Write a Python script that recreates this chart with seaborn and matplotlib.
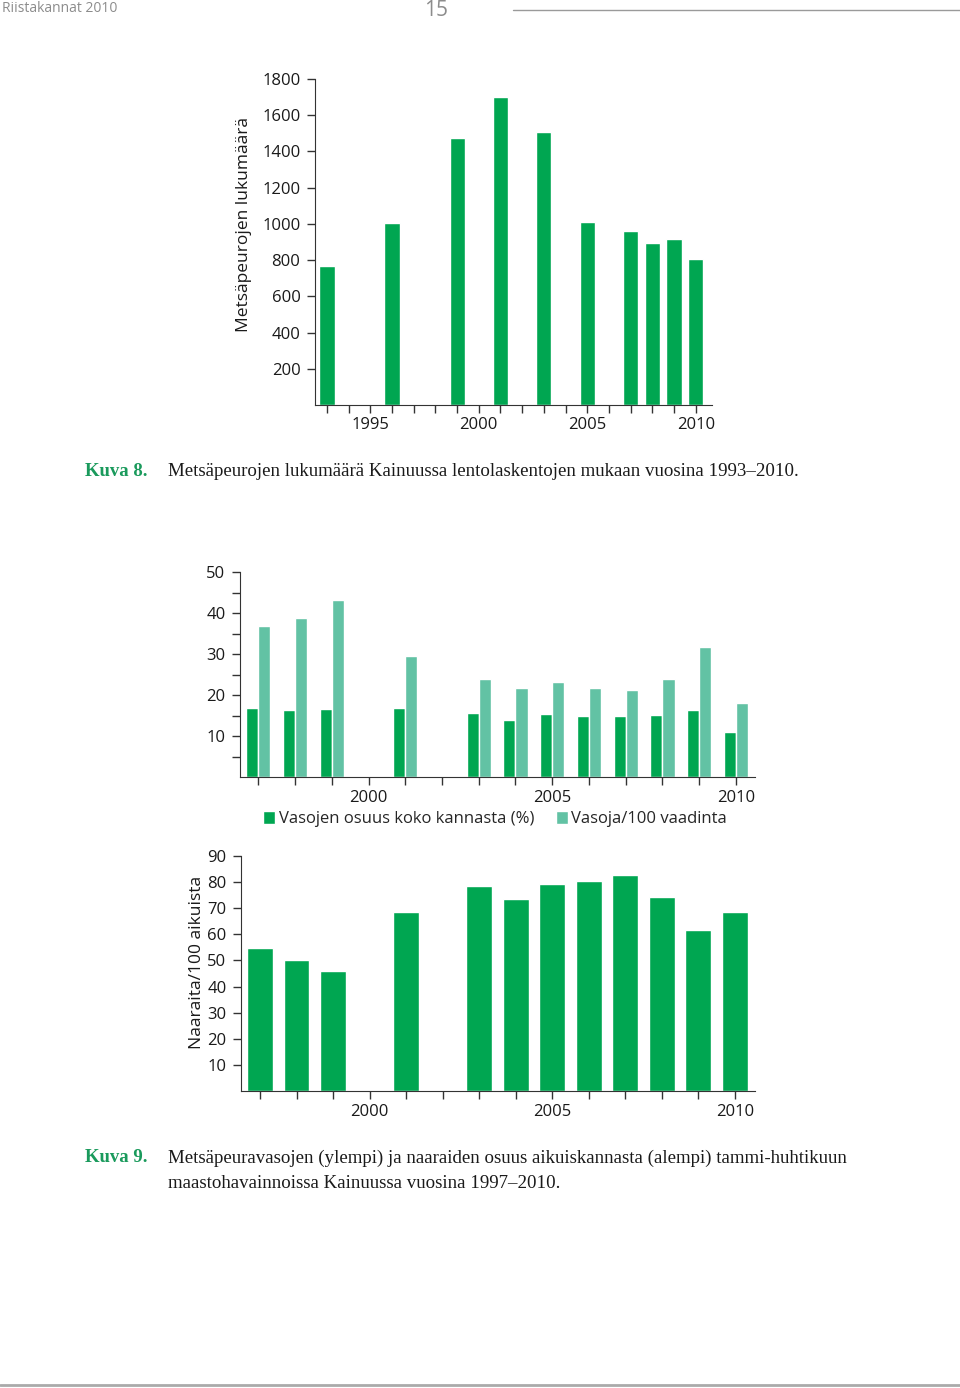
import pandas as pd
import numpy as np
import matplotlib.pyplot as plt
import seaborn as sns

# Kuva 8: metsäpeurojen lukumäärä lentolaskennoissa
count_years = [1993, 1996, 1999, 2001, 2003, 2005, 2007, 2008, 2009, 2010]
count_values = [767, 1004, 1475, 1701, 1508, 1010, 960, 894, 916, 807]

# Kuva 9 ylempi: vasat
calf_years = [1997, 1998, 1999, 2001, 2003, 2004, 2005, 2006, 2007, 2008, 2009, 2010]
calf_share = [16.9, 16.4, 16.7, 16.9, 15.7, 13.8, 15.3, 15.0, 14.9, 15.2, 16.4, 11.0]
calf_per_cow = [36.9, 38.8, 43.2, 29.5, 23.8, 21.8, 23.1, 21.8, 21.1, 24.0, 31.7, 18.1]
calf_series = ['Vasojen osuus koko kannasta (%)', 'Vasoja/100 vaadinta']

# Kuva 9 alempi: naaraat / 100 aikuista
female_per_adult = [54.9, 50.3, 45.8, 68.4, 78.5, 73.6, 79.1, 80.5, 82.9, 74.4, 61.5, 68.6]

dark = '#00a651'
light = '#62c2a4'
ink = '#1a1a1a'

sns.set_style('ticks')
plt.rcParams['font.family'] = ['Open Sans', 'DejaVu Sans']
plt.rcParams['axes.edgecolor'] = '#333333'
plt.rcParams['xtick.color'] = '#333333'
plt.rcParams['ytick.color'] = '#333333'
plt.rcParams['xtick.labelcolor'] = ink
plt.rcParams['ytick.labelcolor'] = ink

W, H = 960, 1388
fs = 12
fig = plt.figure(figsize=(W / 100, H / 100), dpi=100)


def box(left, right, top, bottom):
    return [left / W, 1 - bottom / H, (right - left) / W, (bottom - top) / H]


def style_axis(ax, years, xlim, ylim, yticks, ylabels):
    sns.despine(ax=ax)
    ax.set_xlim(*xlim)
    ax.set_ylim(*ylim)
    ax.set_xticks(years)
    ax.set_xticklabels([str(y) if y % 5 == 0 else '' for y in years])
    ax.set_yticks(yticks)
    ax.set_yticklabels(ylabels)
    ax.tick_params(axis='x', length=5.5, width=1, labelsize=fs, pad=3.5)
    ax.tick_params(axis='y', length=6, width=1, labelsize=fs, pad=4.5)
    ax.set_xlabel('')
    ax.set_ylabel('')


# --- Kuva 8 ---
ax1 = fig.add_axes(box(315, 712, 79, 405))
df1 = pd.DataFrame({'year': count_years, 'count': count_values})
sns.barplot(data=df1, x='year', y='count', native_scale=True, color=dark,
            width=0.7, saturation=1, ax=ax1)
style_axis(ax1, list(range(1993, 2011)), (1992.45, 2010.75), (0, 1800),
           list(range(200, 1801, 200)), [str(v) for v in range(200, 1801, 200)])
ax1.set_ylabel('Metsäpeurojen lukumäärä', fontsize=12.5, color=ink)
ax1.yaxis.set_label_coords(-0.159, 0.555)

# --- Kuva 9 ylempi ---
ax2 = fig.add_axes(box(240, 755, 572, 777))
df2 = pd.DataFrame({
    'year': calf_years * 2,
    'value': calf_share + calf_per_cow,
    'series': [calf_series[0]] * len(calf_years) + [calf_series[1]] * len(calf_years),
})
sns.barplot(data=df2, x='year', y='value', hue='series', native_scale=True,
            palette={calf_series[0]: dark, calf_series[1]: light},
            width=0.66, saturation=1, gap=0, ax=ax2)
yt2 = list(range(5, 51, 5))
style_axis(ax2, list(range(1997, 2011)), (1996.5, 2010.52), (0, 50),
           yt2, [str(v) if v % 10 == 0 else '' for v in yt2])
ax2.legend(loc='upper center', bbox_to_anchor=(0.495, -0.135), ncol=2,
           frameon=False, fontsize=fs, handlelength=0.75, handleheight=0.75,
           handletextpad=0.2, columnspacing=1.3, borderaxespad=0)

# --- Kuva 9 alempi ---
ax3 = fig.add_axes(box(241, 755, 856, 1091))
df3 = pd.DataFrame({'year': calf_years, 'value': female_per_adult})
sns.barplot(data=df3, x='year', y='value', native_scale=True, color=dark,
            width=0.71, saturation=1, ax=ax3)
style_axis(ax3, list(range(1997, 2011)), (1996.48, 2010.55), (0, 90),
           list(range(10, 91, 10)), [str(v) for v in range(10, 91, 10)])
ax3.set_ylabel('Naaraita/100 aikuista', fontsize=12.5, color=ink)
ax3.yaxis.set_label_coords(-0.070, 0.545)

# --- sivun ylä- ja alaosa ---
fig.text(2 / W, 1 - 9 / H, 'Riistakannat 2010', fontsize=10, color='#8c8c8c',
         va='center', ha='left')
fig.text(436 / W, 1 - 11 / H, '15', fontsize=15, color='#8c8c8c',
         va='center', ha='center')
fig.add_artist(plt.Line2D([513 / W, 1], [1 - 10 / H, 1 - 10 / H],
                          color='#9a9a9a', lw=1))
fig.add_artist(plt.Line2D([0, 1], [1 - 1385 / H, 1 - 1385 / H],
                          color='#aaaaaa', lw=2))

# --- kuvatekstit ---
serif = ['Liberation Serif', 'DejaVu Serif']
green_cap = '#1a9a5c'
fig.text(85 / W, 1 - 471 / H, 'Kuva 8.', family=serif, fontsize=13.5,
         fontweight='bold', color=green_cap, va='center')
fig.text(168 / W, 1 - 471 / H,
         'Metsäpeurojen lukumäärä Kainuussa lentolaskentojen mukaan vuosina 1993–2010.',
         family=serif, fontsize=13.6, color=ink, va='center')
fig.text(85 / W, 1 - 1158 / H, 'Kuva 9.', family=serif, fontsize=13.5,
         fontweight='bold', color=green_cap, va='center')
fig.text(168 / W, 1 - 1158 / H,
         'Metsäpeuravasojen (ylempi) ja naaraiden osuus aikuiskannasta (alempi) tammi-huhtikuun',
         family=serif, fontsize=13.6, color=ink, va='center')
fig.text(168 / W, 1 - 1183 / H,
         'maastohavainnoissa Kainuussa vuosina 1997–2010.',
         family=serif, fontsize=13.6, color=ink, va='center')

fig.savefig('out.png', dpi=100)
